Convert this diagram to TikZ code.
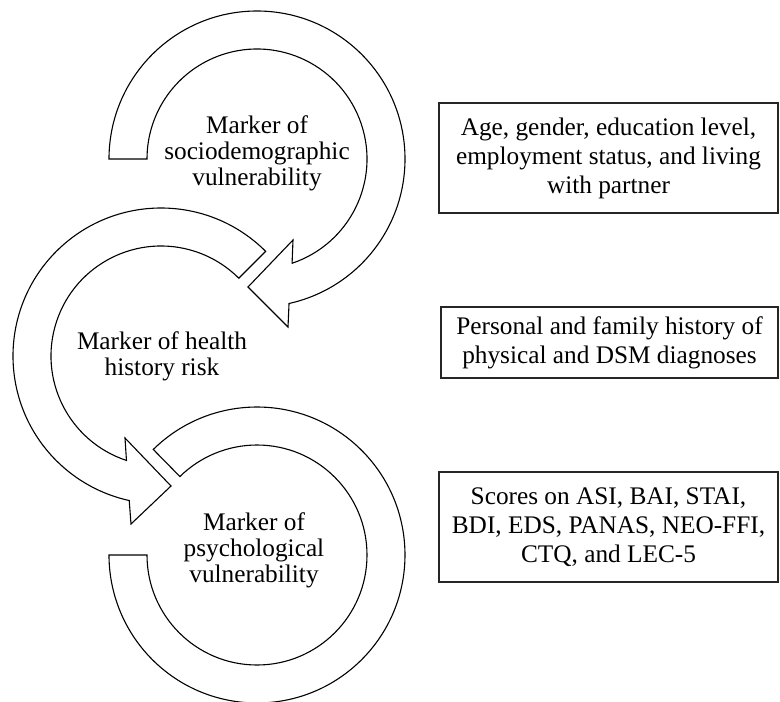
\documentclass[tikz,border=0pt]{standalone}
\usepackage{fontspec}
\setmainfont{Liberation Serif}
\usetikzlibrary{calc}
\begin{document}
\begin{tikzpicture}[x=1pt,y=1pt,
  band/.style={draw=black,line width=1.1pt,line join=miter,fill=white},
  infobox/.style={draw=black!85,line width=1.1pt,rectangle,align=center,inner sep=0pt,
    font=\fontsize{25.3}{29}\selectfont},
  marker/.style={align=center,inner sep=0pt,font=\fontsize{25.3}{26}\selectfont}]
\useasboundingbox (0,0) rectangle (780,-702);
% centres of the three circular arrows
\coordinate (c1) at (257,-159);
\coordinate (c2) at (161,-356);
\coordinate (c3) at (257,-555);
% arrow 1 (clockwise, head at lower right)
\coordinate (h1a) at (293,-240);
\coordinate (h1t) at (248,-287);
\coordinate (h1b) at (288,-327);
\draw[band] ($(c1)+(180:110)$) -- ($(c1)+(180:148)$)
  arc[start angle=180,end angle=-77.5,radius=148pt]
  -- (h1b) -- (h1t) -- (h1a) -- ($(c1)+(-71.4:110)$)
  arc[start angle=-71.4,end angle=180,radius=110pt] -- cycle;
% arrow 2 (counter-clockwise, head at lower right)
\coordinate (h2a) at (125,-438);
\coordinate (h2t) at (171,-486);
\coordinate (h2b) at (131,-524);
\draw[band] ($(c2)+(45:110)$) -- ($(c2)+(45:148)$)
  arc[start angle=45,end angle=257.6,radius=148pt]
  -- (h2b) -- (h2t) -- (h2a) -- ($(c2)+(251.7:110)$)
  arc[start angle=251.7,end angle=45,radius=110pt] -- cycle;
% arrow 3 (clockwise band, no head)
\draw[band] ($(c3)+(134.5:110)$) -- ($(c3)+(134.5:148)$)
  arc[start angle=134.5,end angle=-180,radius=148pt]
  -- ($(c3)+(-180:110)$)
  arc[start angle=-180,end angle=134.5,radius=110pt] -- cycle;
% labels
\node[marker] (m1) at (257,-153) {Marker of\\sociodemographic\\vulnerability};
\node[marker] (m2) at (162,-356) {Marker of health\\history risk};
\node[marker] (m3) at (254,-550) {Marker of\\psychological\\vulnerability};
% boxes
\node[infobox,minimum width=339pt,minimum height=110pt] (b1) at (608.5,-158)
  {Age, gender, education level,\\employment status, and living\\with partner};
\node[infobox,minimum width=337pt,minimum height=71pt] (b2) at (609.5,-342.5)
  {Personal and family history of\\physical and DSM diagnoses};
\node[infobox,minimum width=339pt,minimum height=110pt] (b3) at (608.5,-527)
  {Scores on ASI, BAI, STAI,\\BDI, EDS, PANAS, NEO-FFI,\\CTQ, and LEC-5};
\end{tikzpicture}
\end{document}
